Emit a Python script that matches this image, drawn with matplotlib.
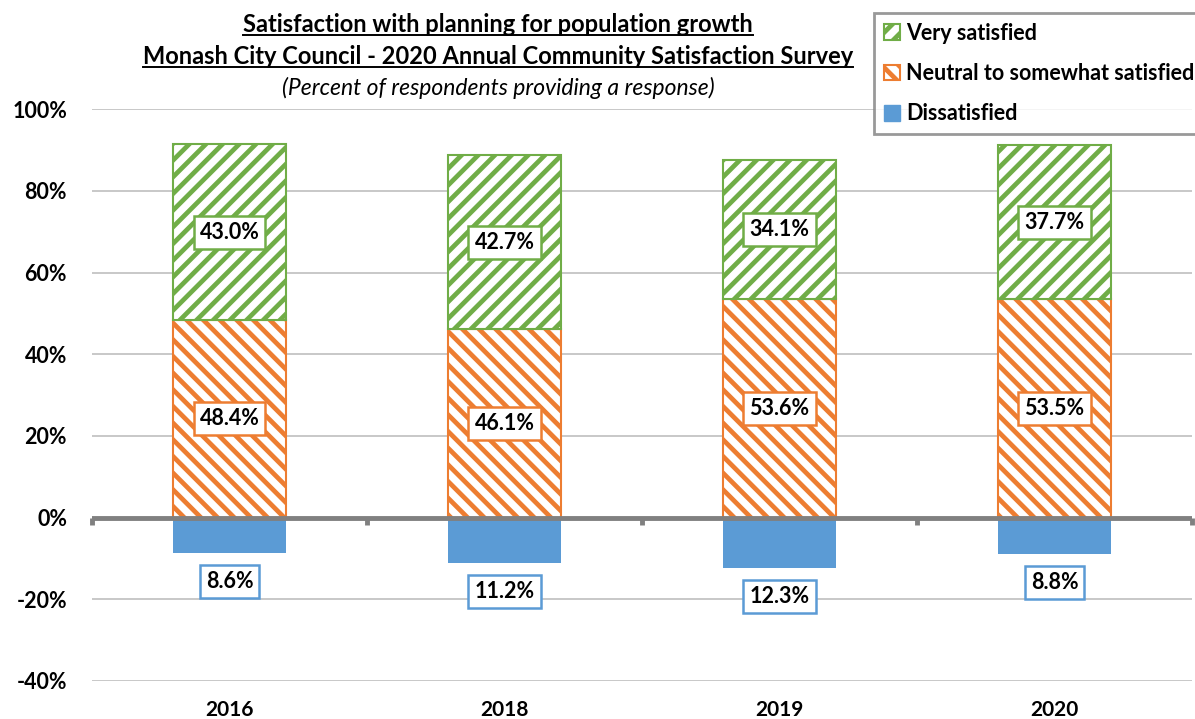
import numpy as np
import matplotlib.pyplot as plt
from matplotlib.patches import Patch
from matplotlib.lines import Line2D

plt.rcParams['font.family'] = ['Lato', 'DejaVu Sans']
plt.rcParams['hatch.linewidth'] = 3.4

# Data
years = ['2016', '2018', '2019', '2020']
dissatisfied = [8.6, 11.2, 12.3, 8.8]
neutral = [48.4, 46.1, 53.6, 53.5]
very_satisfied = [43.0, 42.7, 34.1, 37.7]

c_green = '#70AD47'
c_orange = '#ED7D31'
c_blue = '#5B9BD5'

fig = plt.figure(figsize=(11.95, 7.19), dpi=100)
ax = fig.add_axes([0.077, 0.053, 0.9205, 0.795])

x = np.arange(len(years))
w = 0.41
dis = -np.array(dissatisfied)
neu = np.array(neutral)
vs = np.array(very_satisfied)

ax.bar(x, dis, w, color=c_blue, zorder=3)
ax.bar(x, neu, w, facecolor='white', edgecolor=c_orange, hatch='\\\\', linewidth=1.5, zorder=3)
ax.bar(x, vs, w, bottom=neu, facecolor='white', edgecolor=c_green, hatch='//', linewidth=1.5, zorder=3)

# value labels
def box_label(xp, yp, txt, ec):
    ax.text(xp, yp, txt, ha='center', va='center', fontsize=15.5, fontweight='bold',
            zorder=5, bbox=dict(boxstyle='square,pad=0.28', facecolor='white',
                                edgecolor=ec, linewidth=1.8))

for i in range(len(years)):
    box_label(x[i], neu[i] + vs[i] / 2, f'{vs[i]:.1f}%', c_green)
    box_label(x[i], neu[i] / 2, f'{neu[i]:.1f}%', c_orange)
    box_label(x[i], dis[i] - 7.0, f'{-dis[i]:.1f}%', c_blue)

ax.set_xlim(-0.5, len(years) - 0.5)
ax.set_ylim(-40, 100)
ax.set_yticks(np.arange(-40, 101, 20))
ax.set_yticklabels([f'{v}%' for v in range(-40, 101, 20)], fontsize=15.5, fontweight='bold')
ax.set_xticks(x)
ax.set_xticklabels(years, fontsize=15, fontweight='bold')
ax.tick_params(axis='x', length=0, pad=14)
ax.tick_params(axis='y', length=0, pad=18)
ax.grid(axis='y', color='#BFBFBF', linewidth=1.2, zorder=0)
for s in ax.spines.values():
    s.set_visible(False)

# zero axis line with category boundary ticks
ax.axhline(0, color='#808080', linewidth=3.5, zorder=4)
ax.vlines(np.arange(len(years) + 1) - 0.5, -1.8, 0, color='#808080', linewidth=3.5,
          zorder=4, clip_on=False)

# titles
tx = 498 / 1195
t1 = fig.text(tx, 1 - 25 / 719, 'Satisfaction with planning for population growth',
              ha='center', va='center', fontsize=17, fontweight='bold')
t2 = fig.text(tx, 1 - 57 / 719, 'Monash City Council - 2020 Annual Community Satisfaction Survey',
              ha='center', va='center', fontsize=17, fontweight='bold')
fig.text(tx, 1 - 88 / 719, '(Percent of respondents providing a response)',
         ha='center', va='center', fontsize=16.5, fontstyle='italic')

# legend
handles = [Patch(facecolor='white', edgecolor=c_green, hatch='//', linewidth=1.5),
           Patch(facecolor='white', edgecolor=c_orange, hatch='\\\\', linewidth=1.5),
           Patch(facecolor=c_blue, edgecolor=c_blue)]
labels = ['Very satisfied', 'Neutral to somewhat satisfied', 'Dissatisfied']
leg = fig.legend(handles, labels, loc='upper left', bbox_to_anchor=(874 / 1195, 1 - 13 / 719),
                 prop={'size': 15.5, 'weight': 'bold'}, frameon=True, fancybox=False,
                 handlelength=0.75, handleheight=0.75, handletextpad=0.3, labelspacing=0.9,
                 borderpad=0.45, borderaxespad=0)
leg.get_frame().set_edgecolor('#808080')
leg.get_frame().set_linewidth(2)

# underline the two title lines
fig.canvas.draw()
r = fig.canvas.get_renderer()
inv = fig.transFigure.inverted()
for t in (t1, t2):
    bb = t.get_window_extent(r).transformed(inv)
    fig.add_artist(Line2D([bb.x0, bb.x1], [bb.y0 + 0.002, bb.y0 + 0.002],
                          color='black', linewidth=1.4, transform=fig.transFigure))

fig.savefig('out.png', dpi=100)
